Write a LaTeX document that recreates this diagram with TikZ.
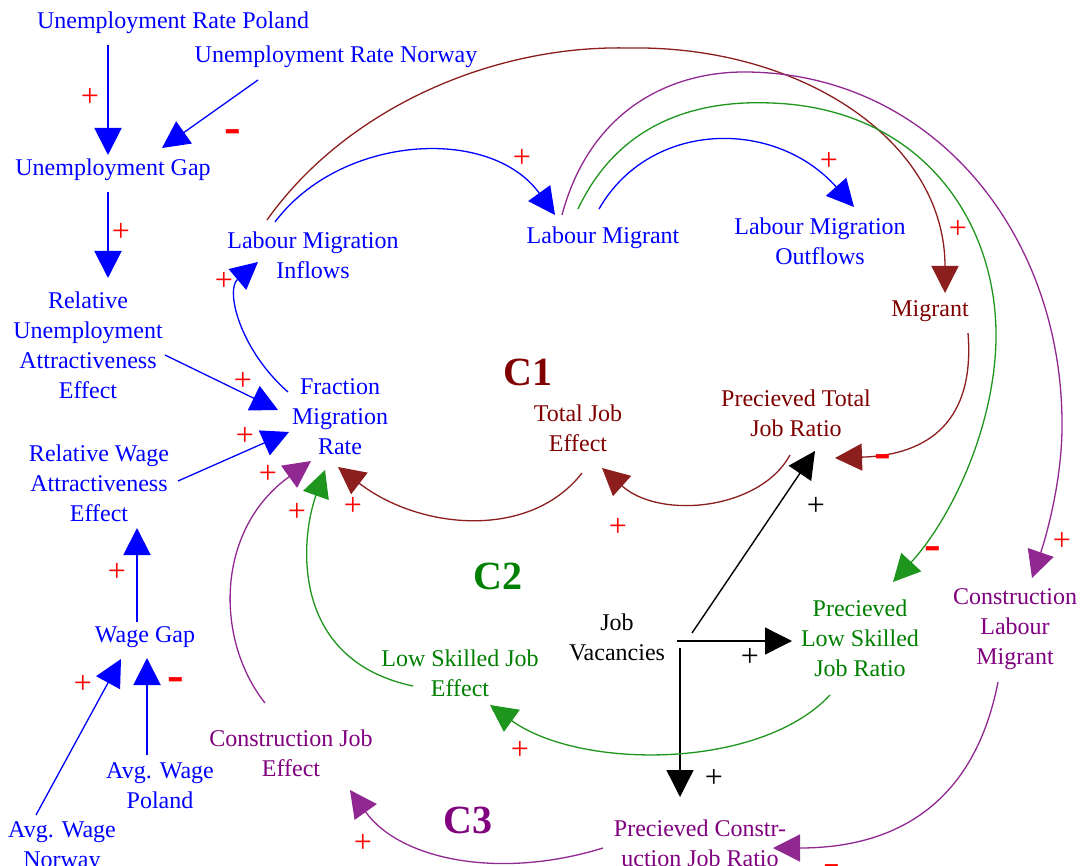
\documentclass[tikz,border=0pt]{standalone}
\usepackage{fontspec}
\setmainfont{Liberation Serif}
\usetikzlibrary{arrows.meta}
\definecolor{brn}{RGB}{128,0,0}
\definecolor{brnline}{RGB}{140,30,30}
\definecolor{grn}{RGB}{0,128,0}
\definecolor{grnline}{RGB}{30,150,30}
\definecolor{pur}{RGB}{128,0,128}
\definecolor{purline}{RGB}{145,40,145}
\begin{document}
\begin{tikzpicture}[x=1pt,y=-1pt,
  lbl/.style={font=\fontsize{24}{30}\selectfont, align=center, inner sep=0pt},
  sgn/.style={text=red, font=\fontsize{32}{32}\selectfont, inner sep=0pt},
  bsgn/.style={text=black, font=\fontsize{32}{32}\selectfont, inner sep=0pt},
  neg/.style={text=red, font=\bfseries\fontsize{50}{50}\selectfont, inner sep=0pt},
  loopname/.style={font=\bfseries\fontsize{40}{40}\selectfont, inner sep=0pt},
  headtip/.style={-{Triangle[length=27pt,width=27pt]}},
  bstraight/.style={headtip, draw=blue, line width=2pt},
  bcurve/.style={headtip, draw=blue, line width=1.3pt},
  brcurve/.style={headtip, draw=brnline, line width=1.3pt},
  gcurve/.style={headtip, draw=grnline, line width=1.3pt},
  pcurve/.style={headtip, draw=purline, line width=1.3pt},
  kline/.style={headtip, draw=black, line width=1.4pt}
]
\useasboundingbox[fill=white] (0,0) rectangle (1083,866);

% ---------- nodes ----------
\node[lbl, text=blue] (urp) at (173,23) {Unemployment Rate Poland};
\node[lbl, text=blue] (urn) at (336,57) {Unemployment Rate Norway};
\node[lbl, text=blue] (ug) at (113,170) {Unemployment Gap};
\node[lbl, text=blue] (ruae) at (88,345) {Relative\\Unemployment\\Attractiveness\\Effect};
\node[lbl, text=blue] (rwae) at (99,483) {Relative Wage\\Attractiveness\\Effect};
\node[lbl, text=blue] (wg) at (145,637) {Wage Gap};
\node[lbl, text=blue] (awp) at (160,786) {Avg. Wage\\Poland};
\node[lbl, text=blue] (awn) at (62,847) {Avg. Wage\\Norway};
\node[lbl, text=blue] (lmi) at (313,255) {Labour Migration\\Inflows};
\node[lbl, text=blue] (lm) at (603,238) {Labour Migrant};
\node[lbl, text=blue] (lmo) at (820,241) {Labour Migration\\Outflows};
\node[lbl, text=brn] (mig) at (930,311) {Migrant};
\node[lbl, text=blue] (fmr) at (340,417) {Fraction\\Migration\\Rate};
\node[lbl, text=brn] (tje) at (578,428) {Total Job\\Effect};
\node[lbl, text=brn] (ptjr) at (796,413) {Precieved Total\\Job Ratio};
\node[lbl] (jv) at (617,637) {Job\\Vacancies};
\node[lbl, text=grn] (plsjr) at (860,638) {Precieved\\Low Skilled\\Job Ratio};
\node[lbl, text=pur] (clm) at (1015,629) {Construction\\Labour\\Migrant};
\node[lbl, text=grn] (lsje) at (460,673) {Low Skilled Job\\Effect};
\node[lbl, text=pur] (cje) at (291,753) {Construction Job\\Effect};
\node[lbl, text=pur] (pcjr) at (700,843) {Precieved Constr-\\uction Job Ratio};

\node[loopname, text=brn] (c1) at (528,372) {C1};
\node[loopname, text=grn] (c2) at (498,576) {C2};
\node[loopname, text=pur] (c3) at (468,820) {C3};

% ---------- blue links ----------
\draw[bstraight] ([shift={(108-173,45-23)}]urp.center) -- ([shift={(108-113,155-170)}]ug.center);
\draw[bcurve] ([shift={(258-336,80-57)}]urn.center) -- ([shift={(162-113,148-170)}]ug.center);
\draw[bstraight] ([shift={(108-113,192-170)}]ug.center) -- ([shift={(108-88,278-345)}]ruae.center);
\draw[bcurve] ([shift={(165-88,355-345)}]ruae.center) -- ([shift={(278-340,410-417)}]fmr.center);
\draw[bcurve] ([shift={(178-99,481-483)}]rwae.center) -- ([shift={(289-340,432-417)}]fmr.center);
\draw[bcurve] ([shift={(288-340,392-417)}]fmr.center) .. controls (240,350) and (225,290) .. ([shift={(258-313,262-255)}]lmi.center);
\draw[bcurve] ([shift={(275-313,222-255)}]lmi.center) .. controls (340,135) and (490,125) .. ([shift={(555-603,215-238)}]lm.center);
\draw[bcurve] ([shift={(599-603,209-238)}]lm.center) .. controls (650,120) and (775,118) .. ([shift={(854-820,207-241)}]lmo.center);
\draw[bstraight] ([shift={(137-145,622-637)}]wg.center) -- ([shift={(137-99,528-483)}]rwae.center);
\draw[bstraight] ([shift={(147-160,755-786)}]awp.center) -- ([shift={(147-145,658-637)}]wg.center);
\draw[bcurve] ([shift={(36-62,815-847)}]awn.center) -- ([shift={(121-145,659-637)}]wg.center);

% ---------- brown links ----------
\draw[brcurve] ([shift={(267-313,220-255)}]lmi.center) .. controls (345,110) and (490,45) .. (628,48)
  .. controls (800,45) and (945,140) .. ([shift={(945-930,293-311)}]mig.center);
\draw[brcurve] ([shift={(968-930,333-311)}]mig.center) .. controls (975,420) and (930,455) .. ([shift={(835-796,458-413)}]ptjr.center);
\draw[brcurve] ([shift={(790-796,455-413)}]ptjr.center) .. controls (760,510) and (660,520) .. ([shift={(602-578,468-428)}]tje.center);
\draw[brcurve] ([shift={(582-578,473-428)}]tje.center) .. controls (530,540) and (420,530) .. ([shift={(338-340,467-417)}]fmr.center);

% ---------- black links ----------
\draw[kline] ([shift={(692-617,633-637)}]jv.center) -- ([shift={(815-796,451-413)}]ptjr.center);
\draw[kline] ([shift={(677-617,641-637)}]jv.center) -- ([shift={(792-860,641-638)}]plsjr.center);
\draw[kline] ([shift={(680-617,648-637)}]jv.center) -- ([shift={(680-700,797-843)}]pcjr.center);

% ---------- green links ----------
\draw[gcurve] ([shift={(578-603,209-238)}]lm.center) .. controls (620,120) and (700,100) .. (771,103)
  .. controls (920,108) and (998,220) .. (996,340)
  .. controls (994,430) and (950,520) .. ([shift={(893-860,582-638)}]plsjr.center);
\draw[gcurve] ([shift={(830-860,695-638)}]plsjr.center) .. controls (760,770) and (580,770) .. ([shift={(490-460,705-673)}]lsje.center);
\draw[gcurve] ([shift={(413-460,686-673)}]lsje.center) .. controls (290,660) and (300,540) .. ([shift={(325-340,470-417)}]fmr.center);

% ---------- purple links ----------
\draw[pcurve] ([shift={(562-603,215-238)}]lm.center) .. controls (590,110) and (670,72) .. (744,72)
  .. controls (930,72) and (1060,230) .. (1062,420)
  .. controls (1063,480) and (1045,540) .. ([shift={(1032-1015,578-629)}]clm.center);
\draw[pcurve] ([shift={(998-1015,682-629)}]clm.center) .. controls (975,800) and (900,848) .. ([shift={(773-700,848-843)}]pcjr.center);
\draw[pcurve] ([shift={(603-700,848-843)}]pcjr.center) .. controls (500,880) and (400,860) .. ([shift={(350-291,790-753)}]cje.center);
\draw[pcurve] ([shift={(265-291,703-753)}]cje.center) .. controls (215,640) and (215,530) .. ([shift={(311-340,461-417)}]fmr.center);

% ---------- polarity signs ----------
\node[sgn] (s1) at (90,97) {+};
\node[neg] (s2) at (233,137) {-};
\node[sgn] (s3) at (121,232) {+};
\node[sgn] (s4) at (243,381) {+};
\node[sgn] (s5) at (245,436) {+};
\node[sgn] (s6) at (224,281) {+};
\node[sgn] (s7) at (522,158) {+};
\node[sgn] (s8) at (829,161) {+};
\node[sgn] (s9) at (958,229) {+};
\node[neg] (s10) at (883,462) {-};
\node[sgn] (s11) at (618,527) {+};
\node[sgn] (s12) at (353,506) {+};
\node[sgn] (s13) at (297,512) {+};
\node[sgn] (s14) at (268,474) {+};
\node[neg] (s15) at (933,554) {-};
\node[sgn] (s16) at (1062,541) {+};
\node[sgn] (s17) at (520,750) {+};
\node[sgn] (s18) at (363,843) {+};
\node[neg] (s19) at (832,872) {-};
\node[sgn] (s20) at (117,572) {+};
\node[sgn] (s21) at (83,684) {+};
\node[neg] (s22) at (176,685) {-};
\node[bsgn] (k1) at (816,506) {+};
\node[bsgn] (k2) at (750,657) {+};
\node[bsgn] (k3) at (714,778) {+};
\end{tikzpicture}
\end{document}
